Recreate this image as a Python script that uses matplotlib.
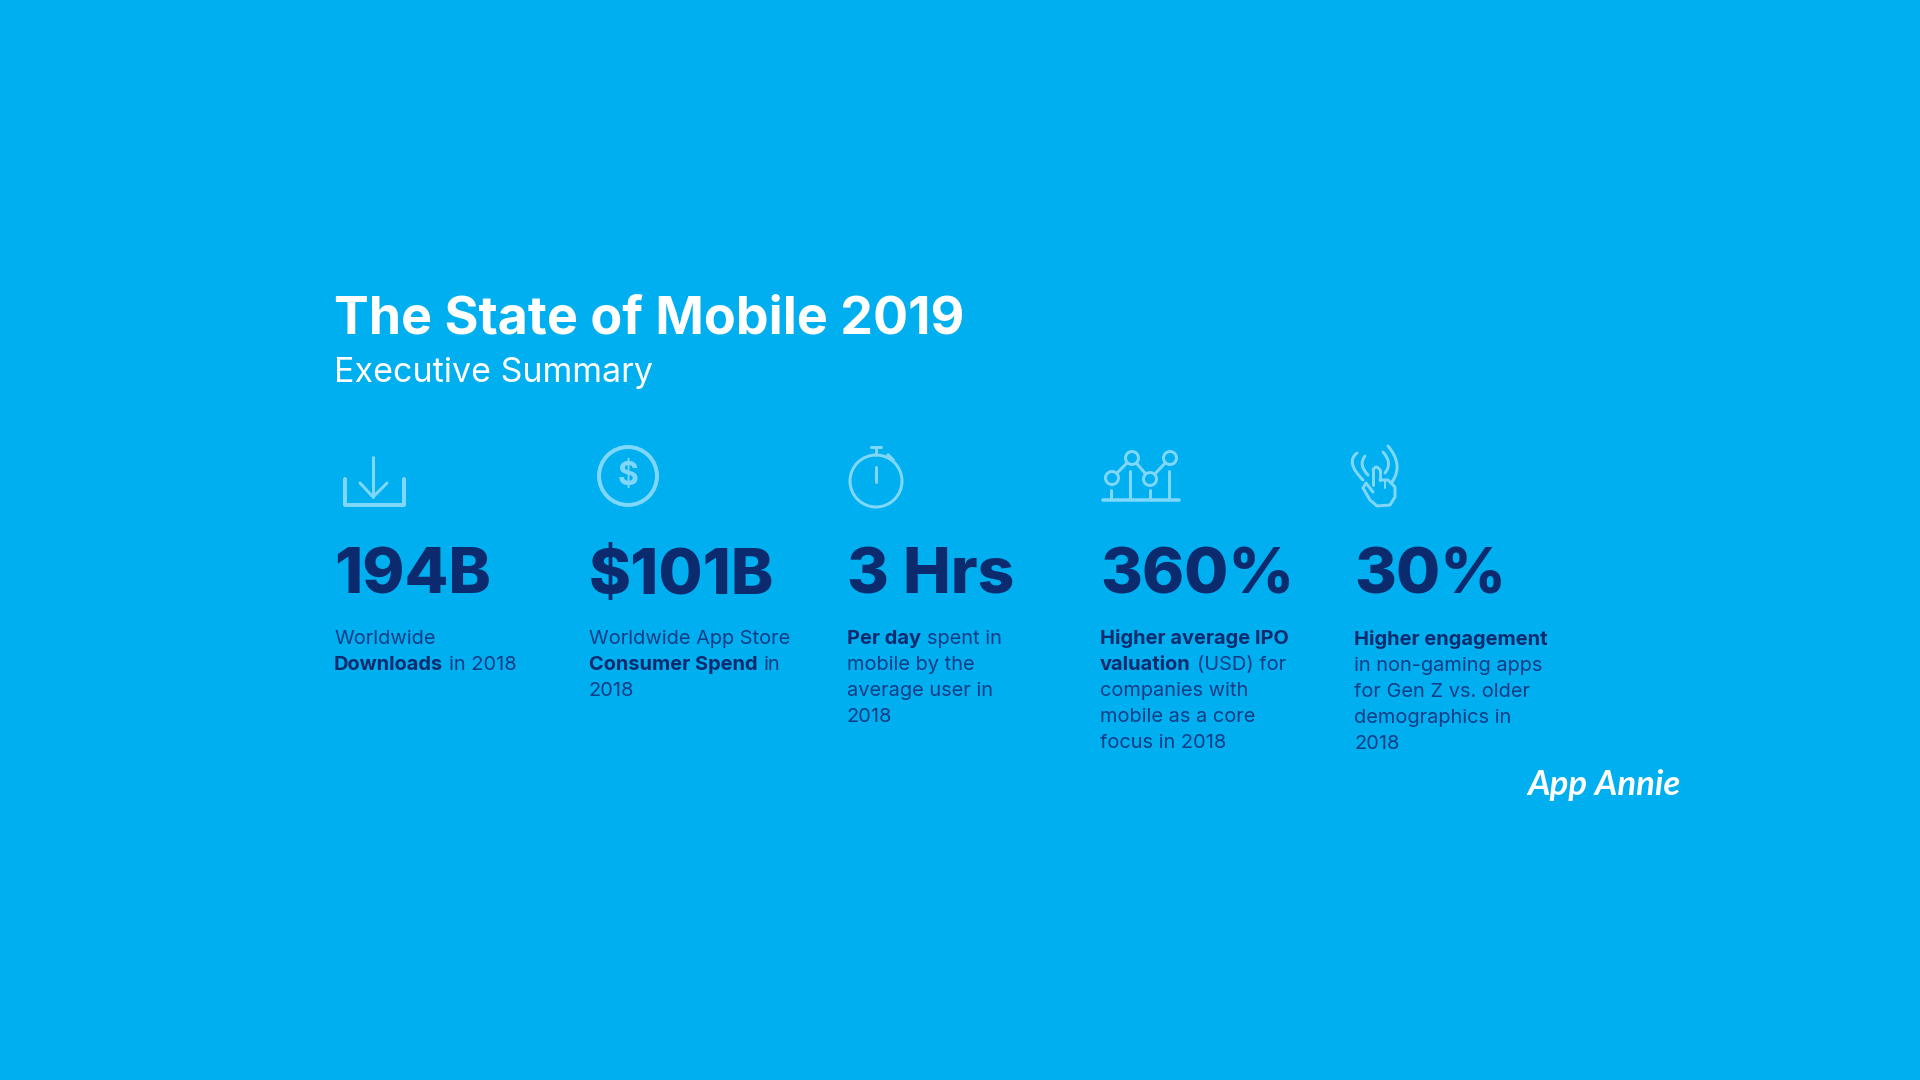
import matplotlib
matplotlib.use("Agg")
import matplotlib.pyplot as plt
from matplotlib.patches import Circle, PathPatch
from matplotlib.path import Path

BG = "#00AFF0"
NAVY = "#0C2A6E"
BODY = "#123C86"
ICON = "#7FD7FB"

TITLE = "The State of Mobile 2019"
SUBTITLE = "Executive Summary"
COLUMN_X = [334, 589, 847, 1100, 1354]
HEADLINES = ["194B", "$101B", "3 Hrs", "360%", "30%"]
FIRST_BASELINE = [644, 644, 644, 644, 645]

# each line is a list of (text, is_bold) runs
DESCRIPTIONS = [
    [[("Worldwide", False)],
     [("Downloads", True), ("in 2018", False)]],
    [[("Worldwide App Store", False)],
     [("Consumer Spend", True), ("in", False)],
     [("2018", False)]],
    [[("Per day", True), ("spent in", False)],
     [("mobile by the", False)],
     [("average user in", False)],
     [("2018", False)]],
    [[("Higher average IPO", True)],
     [("valuation", True), ("(USD) for", False)],
     [("companies with", False)],
     [("mobile as a core", False)],
     [("focus in 2018", False)]],
    [[("Higher engagement", True)],
     [("in non-gaming apps", False)],
     [("for Gen Z vs. older", False)],
     [("demographics in", False)],
     [("2018", False)]],
]

FONT = "Inter"
LINE_STEP = 26
BODY_SIZE = 14.4

fig = plt.figure(figsize=(19.2, 10.8), dpi=100, facecolor=BG)
ax = fig.add_axes([0, 0, 1, 1])
ax.set_xlim(0, 1920)
ax.set_ylim(1080, 0)
ax.axis("off")
renderer = fig.canvas.get_renderer()


def draw_runs(x, y, runs):
    for text, bold in runs:
        t = ax.text(x, y, text, family=FONT, fontsize=BODY_SIZE, va="baseline", ha="left",
                    color=NAVY if bold else BODY, fontweight="bold" if bold else "normal")
        x += t.get_window_extent(renderer).width + 6


def line(xs, ys, lw=3.0, zorder=4):
    ax.plot(xs, ys, color=ICON, lw=lw * 0.72, solid_capstyle="round", solid_joinstyle="round", zorder=zorder)


def curve(p0, p1, p2, lw=3.0):
    path = Path([p0, p1, p2], [Path.MOVETO, Path.CURVE3, Path.CURVE3])
    ax.add_patch(PathPatch(path, fc="none", ec=ICON, lw=lw * 0.72, capstyle="round"))


def ring(x, y, r, lw=3.0):
    ax.add_patch(Circle((x, y), r, fc=BG, ec=ICON, lw=lw * 0.72, zorder=3))


# header
ax.text(334, 333, TITLE, family=FONT, fontsize=37.5, fontweight="bold", color="white", va="baseline")
ax.text(334, 382, SUBTITLE, family=FONT, fontsize=24.5, color="white", va="baseline")

# columns of numbers and text
for x, head, first, desc in zip(COLUMN_X, HEADLINES, FIRST_BASELINE, DESCRIPTIONS):
    ax.text(x, 594, head, family=FONT, fontsize=46, fontweight=800, color=NAVY, va="baseline")
    for i, runs in enumerate(desc):
        draw_runs(x, first + i * LINE_STEP, runs)

# download icon
line([345, 345, 404, 404], [479, 505, 505, 479], 4)
line([373, 373], [457, 497])
line([360, 373, 387], [483, 497, 483])

# dollar icon
ring(628, 476, 29, 4)
ax.text(628, 477, "$", family=FONT, fontsize=23, fontweight="bold", color=ICON,
        ha="center", va="center", zorder=4)

# stopwatch icon
ring(876, 481, 26, 3)
line([876, 876], [447, 455])
line([871, 881], [447, 447])
line([876, 876], [467, 482])
line([888, 893], [455, 460], 3.5)

# chart icon
line([1103, 1179], [499.5, 499.5], 3.5)
for sx, top in zip([1111, 1130, 1150, 1169], [490, 471, 490, 471]):
    line([sx, sx], [top, 499])
line([1112, 1132, 1150, 1170], [478, 458, 479, 458], zorder=2)
for cx, cy in zip([1112, 1132, 1150, 1170], [478, 458, 479, 458]):
    ring(cx, cy, 6.5)

# tapping hand icon
curve((1363, 480), (1345, 462), (1357, 453), 3)
curve((1368, 475), (1358, 465), (1365, 456), 3)
curve((1388, 446), (1404, 465), (1392, 482), 3)
curve((1383, 452), (1393, 463), (1385, 473), 3)
line([1373, 1373], [485, 470])
curve((1373, 470), (1376, 464), (1380, 470), 3)
line([1380, 1380], [470, 480])
line([1380, 1388, 1395, 1395, 1390, 1377, 1370, 1363, 1366, 1373],
     [480, 480, 487, 497, 505, 506, 500, 488, 483, 492])
line([1385, 1385], [481, 488], 2)

# logo, no script font available so an italic at matching width stands in for it
ax.text(1527, 795, "App Annie", family="Lato", fontsize=25, style="italic", fontweight="bold",
        color="white", va="baseline")

fig.savefig("out.png", dpi=100, facecolor=BG)
